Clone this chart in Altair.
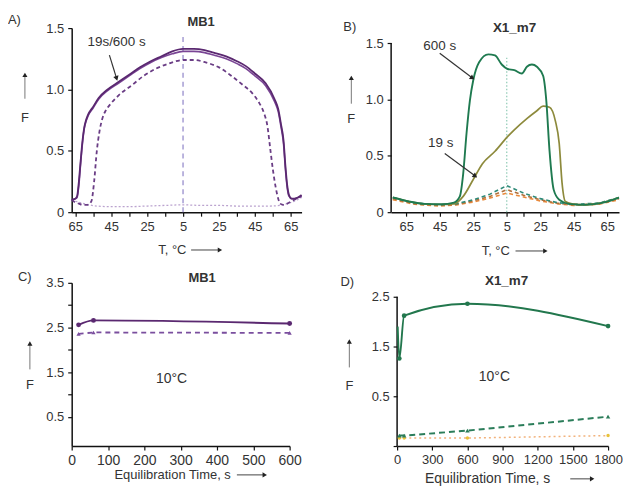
import altair as alt
import pandas as pd

FONT = "Liberation Sans"
INK = "#333333"

# ---------------- Panel A: MB1 (temperature cycle; axis position u, label = |u| + 5) ----------------
A_U = [-62, -60, -59, -58, -57, -56, -55, -54, -53, -50, -47, -42, -36, -30, -24, -18, -12, -6,
       0, 6, 12, 17, 24, 30, 35, 40, 46, 51, 53, 54.5, 56, 57, 58, 59, 60.5, 62, 64, 66]
A_600 = [0.10, 0.11, 0.13, 0.25, 0.42, 0.58, 0.69, 0.75, 0.79, 0.86, 0.93, 1.00, 1.06, 1.12, 1.18, 1.23, 1.27, 1.31,
         1.33, 1.33, 1.32, 1.30, 1.27, 1.23, 1.19, 1.13, 1.05, 0.92, 0.84, 0.72, 0.58, 0.38, 0.22, 0.14, 0.11, 0.11, 0.12, 0.14]
A_19 = [0.10, 0.11, 0.12, 0.22, 0.40, 0.56, 0.68, 0.74, 0.78, 0.85, 0.92, 0.99, 1.05, 1.11, 1.17, 1.22, 1.26, 1.29,
        1.31, 1.31, 1.30, 1.28, 1.25, 1.21, 1.17, 1.11, 1.03, 0.90, 0.82, 0.70, 0.55, 0.35, 0.20, 0.13, 0.11, 0.11, 0.12, 0.13]
A_DASH_U = [-62, -60, -58, -56, -53, -51, -49.5, -48, -46.5, -45, -43, -41, -36, -28, -22, -15, -8, 0, 6, 12.6,
            20, 27, 33, 38.5, 42, 45, 47, 48.7, 50, 51.5, 53, 54, 56, 58, 60.5, 63, 66]
A_DASH_F = [0.10, 0.08, 0.07, 0.06, 0.06, 0.09, 0.25, 0.50, 0.66, 0.76, 0.83, 0.87, 0.95, 1.04, 1.11, 1.17, 1.21, 1.24, 1.24, 1.22,
            1.18, 1.11, 1.04, 0.97, 0.90, 0.81, 0.70, 0.50, 0.35, 0.21, 0.11, 0.07, 0.06, 0.07, 0.09, 0.11, 0.13]
A_BASE_U = [-62, -58, -54, -48, -40, -30, -20, -10, 0, 10, 20, 30, 40, 48, 54, 58, 62, 66]
A_BASE_F = [0.10, 0.08, 0.065, 0.05, 0.045, 0.045, 0.05, 0.055, 0.06, 0.055, 0.055, 0.05, 0.05, 0.05, 0.055, 0.07, 0.09, 0.12]
A_VLINE = {"x": [0], "y": [0], "y2": [1.45]}
A_NOTE = {"x": [-37], "y": [1.385], "s": ["19s/600 s"]}
A_ARROW = {"x": [-41], "y": [1.28], "x2": [-37], "y2": [1.09]}

# ---------------- Panel B: X1_m7 ----------------
B_600_U = [-68, -58, -49, -39, -31.5, -28, -26, -24, -22, -20, -16.5, -11, -7, -3, 0.5, 4.5, 9, 12, 15, 18,
           21.7, 23.6, 25.5, 28, 31.3, 37, 46, 56, 67]
B_600_F = [0.13, 0.094, 0.074, 0.07, 0.085, 0.14, 0.34, 0.70, 0.99, 1.17, 1.33, 1.40, 1.39, 1.31, 1.27, 1.26, 1.23, 1.29, 1.31, 1.29,
           1.21, 0.99, 0.55, 0.20, 0.11, 0.074, 0.065, 0.08, 0.13]
B_19_U = [-68, -58, -49, -39, -31.5, -26, -20, -14.5, -7, 0.5, 4.5, 12, 18, 21.7, 25.5, 29, 31.3, 33, 35, 39, 46, 56, 67]
B_19_F = [0.13, 0.094, 0.072, 0.068, 0.074, 0.14, 0.29, 0.43, 0.54, 0.67, 0.73, 0.83, 0.90, 0.94, 0.93, 0.81, 0.61, 0.26,
          0.094, 0.074, 0.065, 0.08, 0.13]
B_DASH_U = [-68, -55, -40, -30, -20, -10, 0, 10, 20, 30, 40, 55, 67]
B_DASH_GREEN = [0.13, 0.08, 0.065, 0.075, 0.11, 0.16, 0.235, 0.17, 0.12, 0.085, 0.07, 0.08, 0.13]
B_DASH_BROWN = [0.12, 0.075, 0.06, 0.07, 0.10, 0.14, 0.20, 0.15, 0.11, 0.08, 0.065, 0.075, 0.12]
B_DASH_ORANGE = [0.11, 0.07, 0.055, 0.065, 0.09, 0.125, 0.17, 0.135, 0.10, 0.075, 0.06, 0.07, 0.11]
B_VLINE = {"x": [0], "y": [0], "y2": [1.37]}
B_NOTES = {"x": [-40, -39.4], "y": [1.47, 0.61], "s": ["600 s", "19 s"]}
B_ARROWS = {"x": [-40, -37], "y": [1.41, 0.52], "x2": [-20.5, -18.8], "y2": [1.19, 0.32]}

# ---------------- Panel C: MB1, 10 °C vs equilibration time ----------------
C_T = [19, 60, 600]
C_SOLID = [2.56, 2.66, 2.59]
C_DASH = [2.36, 2.39, 2.38]
C_NOTE = {"x": [275], "y": [1.34], "s": ["10°C"]}

# ---------------- Panel D: X1_m7, 10 °C vs equilibration time ----------------
D_SOLID_T = [5, 19, 60, 600, 1800]
D_SOLID = [1.90, 1.26, 2.12, 2.36, 1.91]
D_T = [19, 60, 600, 1800]
D_DASH = [-0.29, -0.29, -0.19, 0.09]
D_DOT = [-0.34, -0.34, -0.34, -0.29]
D_NOTE = {"x": [830], "y": [0.88], "s": ["10°C"]}


def frame(**cols):
    return pd.DataFrame(cols)


def enc_factory(xs, ys, xa, ya):
    def f(**kw):
        d = dict(x=alt.X("x:Q", scale=xs, axis=xa), y=alt.Y("y:Q", scale=ys, axis=ya))
        d.update(kw)
        return d
    return f


def line(data, E, color, width=1.6, dash=None, interp="monotone"):
    kw = dict(color=color, strokeWidth=width, interpolate=interp)
    if dash:
        kw["strokeDash"] = dash
    return alt.Chart(data).mark_line(**kw).encode(**E())


def points(data, E, color, shape="circle", size=22):
    return alt.Chart(data).mark_point(shape=shape, filled=True, size=size, color=color, opacity=1).encode(**E())


ONE = pd.DataFrame({"s": [""]})


def txt(s, x, y, size=13, bold=False, align="center"):
    return alt.Chart(pd.DataFrame({"s": [s]})).mark_text(
        font=FONT, fontSize=size, fontWeight="bold" if bold else "normal",
        align=align, baseline="middle", color=INK
    ).encode(x=alt.value(x), y=alt.value(y), text="s:N")


def v_arrow(x, y_top, y_bot):
    shaft = alt.Chart(ONE).mark_rule(color="#777777", strokeWidth=1).encode(
        x=alt.value(x), y=alt.value(y_top + 3), y2=alt.value(y_bot))
    head = alt.Chart(ONE).mark_point(shape="triangle-up", filled=True, size=26, color="#222222", opacity=1).encode(
        x=alt.value(x), y=alt.value(y_top + 2))
    return [shaft, head]


def h_arrow(y, x_left, x_right):
    shaft = alt.Chart(ONE).mark_rule(color="#444444", strokeWidth=1).encode(
        y=alt.value(y), x=alt.value(x_left), x2=alt.value(x_right - 3))
    head = alt.Chart(ONE).mark_point(shape="triangle-right", filled=True, size=26, color="#222222", opacity=1).encode(
        y=alt.value(y), x=alt.value(x_right - 2))
    return [shaft, head]


def note_layers(notes, arrows, E, angles):
    out = [alt.Chart(pd.DataFrame(notes)).mark_text(font=FONT, fontSize=13.5, color=INK, baseline="middle")
           .encode(**E(text="s:N"))]
    adf = pd.DataFrame(arrows)
    out.append(alt.Chart(adf).mark_rule(color="#333333", strokeWidth=1.2).encode(**E(x2="x2:Q", y2="y2:Q")))
    for i, ang in enumerate(angles):
        row = adf.iloc[[i]][["x2", "y2"]].rename(columns={"x2": "x", "y2": "y"})
        out.append(alt.Chart(row).mark_point(shape="triangle-up", filled=True, size=30, angle=ang,
                                             color="#222222", opacity=1).encode(**E()))
    return out


temp_label = "abs(datum.value) % 20 == 0 ? '' + (abs(datum.value) + 5) : ''"
one_dec = "datum.value == 0 ? '0' : format(datum.value, '.1f')"

# ---------------- Panel A ----------------
EA = enc_factory(
    alt.Scale(domain=[-62, 66], nice=False, zero=False),
    alt.Scale(domain=[0, 1.5], nice=False),
    alt.Axis(values=list(range(-60, 61, 10)), labelExpr=temp_label, title=None, labelOverlap=False, labelFlush=False),
    alt.Axis(values=[0, 0.5, 1.0, 1.5], labelExpr=one_dec, title=None, labelOverlap=False),
)
a_layers = [
    line(frame(x=A_BASE_U, y=A_BASE_F), EA, "#bba3cf", 1.3, [2, 2]),
    alt.Chart(pd.DataFrame(A_VLINE)).mark_rule(color="#8f84c8", strokeWidth=1.2, strokeDash=[5, 4]).encode(**EA(y2="y2:Q")),
    line(frame(x=A_DASH_U, y=A_DASH_F), EA, "#6a3d85", 1.8, [4, 3]),
    line(frame(x=A_U, y=A_19), EA, "#7a4595", 1.6),
    line(frame(x=A_U, y=A_600), EA, "#5a2870", 1.8),
] + note_layers(A_NOTE, A_ARROW, EA, [163]) + [
    txt("A)", -64, -8, 13, align="left"),
    txt("MB1", 130, -6, 13, bold=True),
    txt("F", -47, 90, 13),
    txt("T, °C", 87, 223, 13, align="left"),
] + v_arrow(-47, 45, 71) + h_arrow(223, 120, 151)
A = alt.layer(*a_layers).properties(width=231, height=185)

# ---------------- Panel B ----------------
EB = enc_factory(
    alt.Scale(domain=[-69, 67], nice=False, zero=False),
    alt.Scale(domain=[0, 1.633], nice=False),
    alt.Axis(values=list(range(-60, 61, 10)), labelExpr=temp_label, title=None, labelOverlap=False, labelFlush=False),
    alt.Axis(values=[0, 0.5, 1.0, 1.5], labelExpr=one_dec, title=None, domain=False, labelOverlap=False),
)
b_layers = [
    alt.Chart(pd.DataFrame({"y": [0], "y2": [1.5]})).mark_rule(color="#111111", strokeWidth=1.5).encode(
        x=alt.value(0), y=alt.Y("y:Q", scale=alt.Scale(domain=[0, 1.633], nice=False)), y2="y2:Q"),
    alt.Chart(pd.DataFrame(B_VLINE)).mark_rule(color="#8fcab6", strokeWidth=1.2, strokeDash=[1.5, 2]).encode(**EB(y2="y2:Q")),
    line(frame(x=B_DASH_U, y=B_DASH_ORANGE), EB, "#e98a3c", 1.6, [4, 3], "linear"),
    line(frame(x=B_DASH_U, y=B_DASH_BROWN), EB, "#b0703c", 1.6, [4, 3], "linear"),
    line(frame(x=B_DASH_U, y=B_DASH_GREEN), EB, "#2f8a78", 1.6, [4, 3], "linear"),
    line(frame(x=B_19_U, y=B_19_F), EB, "#8d8a3c", 1.7),
    line(frame(x=B_600_U, y=B_600_F), EB, "#1f7a50", 1.9),
] + note_layers(B_NOTES, B_ARROWS, EB, [125, 126]) + [
    txt("B)", -48, -1, 13, align="left"),
    txt("X1_m7", 124, 0, 13.5, bold=True),
    txt("F", -40, 91, 13),
    txt("T, °C", 91, 224, 13, align="left"),
] + v_arrow(-40, 48, 76) + h_arrow(224, 125, 157)
B = alt.layer(*b_layers).properties(width=229, height=185)

# ---------------- Panel C ----------------
C_YS = alt.Scale(domain=[-0.15, 3.5], nice=False, zero=False)
EC = enc_factory(
    alt.Scale(domain=[0, 600], nice=False),
    C_YS,
    alt.Axis(values=list(range(0, 601, 100)), title=None, labelOverlap=False, labelFlush=False, labelFontSize=14),
    alt.Axis(values=[0.5, 1, 1.5, 2, 2.5, 3, 3.5], title=None, labelOverlap=False,
             labelExpr="(datum.value * 2) % 2 == 1 ? format(datum.value, '.1f') : ''"),
)
c_solid = frame(x=C_T, y=C_SOLID)
c_dash = frame(x=C_T, y=C_DASH)
c_layers = [
    line(c_dash, EC, "#7a4e9e", 1.8, [5, 4], "linear"),
    points(c_dash, EC, "#7a4e9e", "triangle-up", 18),
    line(c_solid, EC, "#5a2870", 1.9),
    points(c_solid, EC, "#5a2870", "circle", 24),
    alt.Chart(pd.DataFrame(C_NOTE)).mark_text(font=FONT, fontSize=14, color=INK, baseline="middle").encode(**EC(text="s:N")),
    txt("C)", -54, -6, 13, align="left"),
    txt("MB1", 131, -5, 13, bold=True),
    txt("F", -42, 103, 13),
    txt("Equilibration Time, s", 43, 193, 13, align="left"),
] + v_arrow(-42, 59, 87) + h_arrow(193, 166, 196)
C = alt.layer(*c_layers).properties(width=219, height=164)

# ---------------- Panel D ----------------
D_YS = alt.Scale(domain=[-0.5, 2.78], nice=False, zero=False)
ED = enc_factory(
    alt.Scale(domain=[0, 1800], nice=False),
    D_YS,
    alt.Axis(values=list(range(0, 1801, 300)), format="d", title=None, labelOverlap=False, labelFlush=False),
    alt.Axis(values=[-0.5, 0, 0.5, 1, 1.5, 2, 2.5], title=None, domain=False, labelOverlap=False,
             labelExpr="(datum.value == 0.5 || datum.value == 1.5 || datum.value == 2.5) ? format(datum.value, '.1f') : ''"),
)
d_solid = frame(x=D_SOLID_T, y=D_SOLID)
d_dash = frame(x=D_T, y=D_DASH)
d_dot = frame(x=D_T, y=D_DOT)
d_layers = [
    alt.Chart(pd.DataFrame({"y": [-0.5], "y2": [2.5]})).mark_rule(color="#111111", strokeWidth=1.5).encode(
        x=alt.value(0), y=alt.Y("y:Q", scale=D_YS), y2="y2:Q"),
    line(d_dot, ED, "#f2b27c", 1.5, [2, 3], "linear"),
    points(d_dot, ED, "#e8c23a", "circle", 12),
    line(d_dash, ED, "#2b7d5a", 2.0, [6, 4], "linear"),
    points(d_dash, ED, "#2b7d5a", "triangle-up", 20),
    line(d_solid, ED, "#22774d", 1.9),
    points(d_solid.iloc[1:], ED, "#22774d", "circle", 22),
    alt.Chart(pd.DataFrame(D_NOTE)).mark_text(font=FONT, fontSize=14, color=INK, baseline="middle").encode(**ED(text="s:N")),
    txt("D)", -57, -1, 13, align="left"),
    txt("X1_m7", 110, -2, 13.5, bold=True),
    txt("F", -48, 104, 13),
    txt("Equilibration Time, s", 28, 197, 14, align="left"),
] + v_arrow(-48, 57, 85) + h_arrow(197, 174, 198)
D = alt.layer(*d_layers).properties(width=212, height=164)

top = alt.hconcat(A, B, spacing=90, bounds="flush")
bottom = alt.hconcat(C, D, spacing=108, bounds="flush")
chart = (
    alt.vconcat(top, bottom, spacing=13)
    .properties(padding={"left": 0, "top": 5, "right": 0, "bottom": 0})
    .configure(font=FONT)
    .configure_view(stroke=None)
    .configure_axis(grid=False, domainColor="#111111", domainWidth=1.5, tickColor="#111111", tickWidth=1.2,
                    tickSize=4, labelFont=FONT, labelFontSize=13, labelColor=INK, labelPadding=4)
)
chart.save("out.html", embed_options={"renderer": "svg", "actions": False})
